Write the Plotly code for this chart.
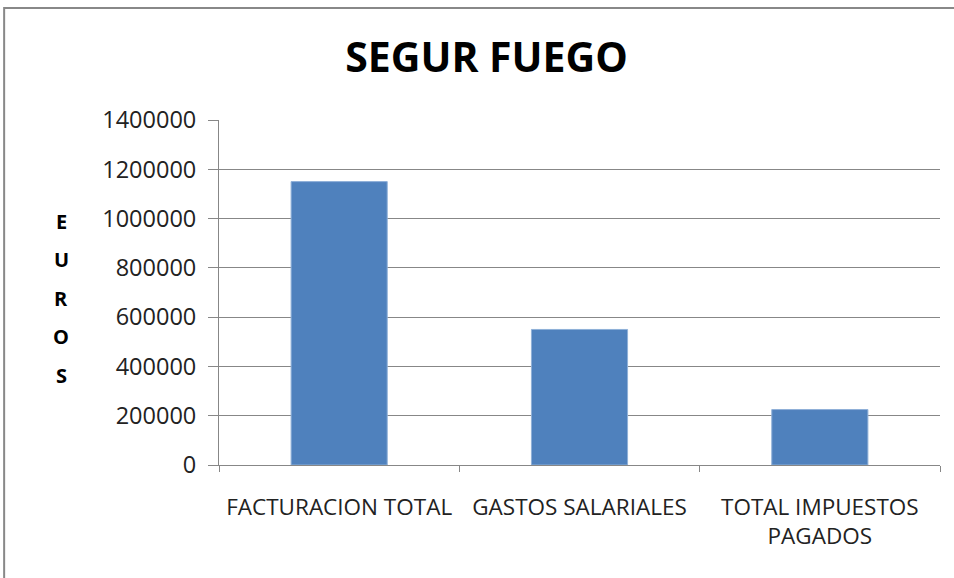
import plotly.graph_objects as go

# Datos
categorias = ['FACTURACION TOTAL', 'GASTOS SALARIALES', 'TOTAL IMPUESTOS<br>PAGADOS']
euros = [1150000, 550000, 225000]
ticks_y = [0, 200000, 400000, 600000, 800000, 1000000, 1200000, 1400000]
titulo_eje = list('EUROS')

FONT = 'Open Sans'
GRID = '#878787'

fig = go.Figure(go.Bar(
    x=categorias, y=euros, width=0.4,
    marker=dict(color='#4F81BD', line=dict(color='#8FB0D8', width=1)),
))

fig.update_layout(
    width=954, height=578,
    margin=dict(l=219, r=14, t=120, b=113),
    paper_bgcolor='white', plot_bgcolor='white',
    showlegend=False,
    font=dict(family=FONT, color='#222222', size=20),
    title=dict(text='<b>SEGUR FUEGO</b>', x=0.51, xanchor='center',
               y=0.901, yanchor='middle',
               font=dict(family=FONT, size=41, color='black')),
)
fig.update_yaxes(
    range=[0, 1400000], tickvals=ticks_y, ticktext=[str(v) for v in ticks_y],
    showgrid=True, gridcolor=GRID, gridwidth=1,
    showline=True, linecolor=GRID, linewidth=1,
    ticks='outside', ticklen=10, tickcolor=GRID, ticklabelstandoff=7,
    tickfont=dict(size=23.5, color='#222222'), zeroline=False,
)
fig.update_xaxes(
    showline=True, linecolor=GRID, linewidth=1,
    ticks='outside', ticklen=6, tickcolor=GRID, tickson='boundaries',
    ticklabelstandoff=22,
    tickfont=dict(size=22.5, color='#222222'),
)

# titulo del eje Y, una letra debajo de otra
for i, letra in enumerate(titulo_eje):
    fig.add_annotation(
        text='<b>%s</b>' % letra, xref='paper', yref='paper',
        x=-0.219, y=(465 - (221 + 38.5 * i)) / 345, showarrow=False,
        xanchor='center', yanchor='middle',
        font=dict(family=FONT, size=20, color='black'),
    )

# marco del area del grafico
fig.add_shape(type='rect', xref='paper', yref='paper',
              x0=-0.298, x1=1.04, y0=-0.35, y1=1.3246,
              line=dict(color='#888888', width=2))

fig.write_html('out.html', config={'displayModeBar': False},
               post_script="document.body.style.margin='0';")
